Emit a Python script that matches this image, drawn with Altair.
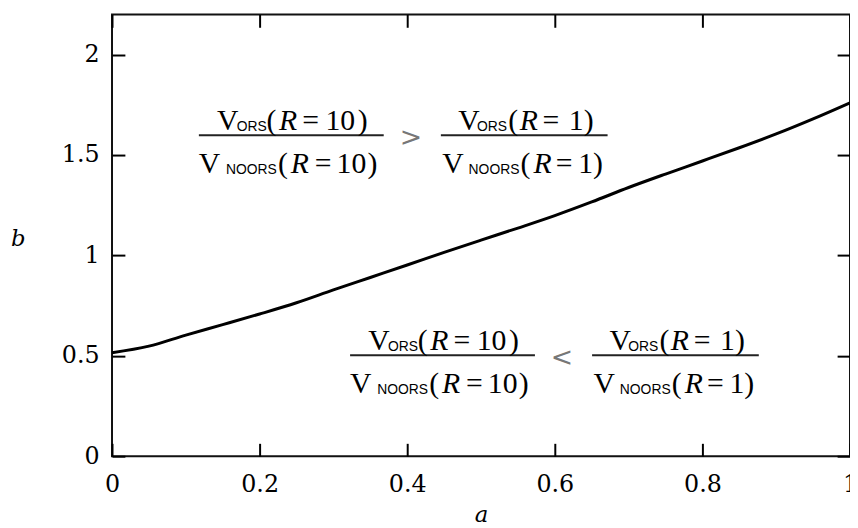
import altair as alt
import pandas as pd

# ---- data ----
a_vals = [0.0, 0.05, 0.1, 0.15, 0.2, 0.25, 0.3, 0.35, 0.4, 0.45, 0.5,
          0.55, 0.6, 0.65, 0.7, 0.75, 0.8, 0.85, 0.9, 0.95, 1.0]
b_vals = [0.515, 0.548, 0.603, 0.655, 0.708, 0.764, 0.828, 0.890, 0.952, 1.015, 1.076,
          1.136, 1.198, 1.266, 1.338, 1.405, 1.470, 1.536, 1.605, 1.680, 1.760]
x_ticks = [0, 0.2, 0.4, 0.6, 0.8, 1]
y_ticks = [0, 0.5, 1, 1.5, 2]
x_domain = [0, 1]
y_domain = [0, 2.2]

# annotation anchors (data units): left end of the first fraction bar of each group
groups = [
    {"a": 0.1177, "b": 1.598, "rel": ">"},
    {"a": 0.3226, "b": 0.503, "rel": "<"},
]
# (text, style, dx px, dy px) relative to the anchor
pieces = [
    ("V", "roman", 18.3, -5.5), ("ORS", "sub", 38.3, -4.5), ("(", "roman", 68.3, -5.5),
    ("R", "italic", 80.8, -5.5), ("=", "roman", 104.3, -5.5), ("10", "roman", 127.8, -5.5),
    (")", "roman", 160.3, -5.5),
    ("V", "roman", 0.0, 38), ("NOORS", "sub", 27.3, 39.5), ("(", "roman", 79.8, 38),
    ("R", "italic", 92.8, 38), ("=", "roman", 117.0, 38), ("10", "roman", 139.0, 38),
    (")", "roman", 170.3, 38),
    ("V", "roman", 261.8, -5.5), ("ORS", "sub", 280.8, -4.5), ("(", "roman", 312.3, -5.5),
    ("R", "italic", 323.8, -5.5), ("=", "roman", 347.0, -5.5), ("1)", "roman", 373.5, -5.5),
    ("V", "roman", 245.8, 38), ("NOORS", "sub", 272.3, 39.5), ("(", "roman", 324.8, 38),
    ("R", "italic", 337.8, 38), ("=", "roman", 360.3, 38), ("1)", "roman", 383.0, 38),
]
bars = [(0.0, 186.6), (244.3, 412.6)]
rel_offset = (214.0, 2.5)

W, H = 745, 446
SERIF = "DejaVu Serif"
TSERIF = "Liberation Serif"
SANS = "Liberation Sans"

ppa = W / (x_domain[1] - x_domain[0])
ppb = H / (y_domain[1] - y_domain[0])

df = pd.DataFrame({"a": a_vals, "b": b_vals})

rows, bar_rows, rel_rows = [], [], []
for g in groups:
    for t, s, dx, dy in pieces:
        rows.append({"a": g["a"] + dx / ppa, "b": g["b"] - dy / ppb, "text": t, "style": s})
    for x0, x1 in bars:
        bar_rows.append({"a": g["a"] + x0 / ppa, "a2": g["a"] + x1 / ppa, "b": g["b"]})
    rel_rows.append({"a": g["a"] + rel_offset[0] / ppa, "b": g["b"] - rel_offset[1] / ppb,
                     "text": g["rel"]})
ann = pd.DataFrame(rows)
bar_df = pd.DataFrame(bar_rows)
rel_df = pd.DataFrame(rel_rows)

xs = alt.Scale(domain=x_domain, nice=False, zero=False)
ys = alt.Scale(domain=y_domain, nice=False, zero=False)

main = alt.Chart(df).mark_line(color="black", strokeWidth=3, interpolate="monotone").encode(
    x=alt.X("a:Q", scale=xs, axis=alt.Axis(
        orient="bottom", values=x_ticks, format="~g", ticks=False, tickSize=0,
        domain=False, grid=False, labelFlush=False, labelOverlap=False,
        labelFont=SERIF, labelFontSize=24, labelColor="black", labelPadding=17,
        title="a", titleFont=SERIF, titleFontSize=23, titleFontStyle="italic",
        titleFontWeight="normal", titleColor="black", titleX=W / 2, titleY=66,
        titleBaseline="alphabetic", titleAlign="center")),
    y=alt.Y("b:Q", scale=ys, axis=alt.Axis(
        orient="left", values=y_ticks, format="~g", ticks=False, tickSize=0,
        domain=False, grid=False, labelOverlap=False,
        labelFont=SERIF, labelFontSize=24, labelColor="black", labelPadding=13,
        title="b", titleFont=SERIF, titleFontSize=23, titleFontStyle="italic",
        titleFontWeight="normal", titleColor="black", titleAngle=0, titleX=-95,
        titleY=233, titleBaseline="alphabetic", titleAlign="center")),
)


def tick_axis(orient, off, vals):
    return alt.Axis(orient=orient, offset=off, values=vals, labels=False, ticks=True,
                    tickSize=13, tickWidth=2, tickColor="black", domain=False,
                    grid=False, title=None)


ticks_a = alt.Chart(df).mark_line(opacity=0).encode(
    x=alt.X("a:Q", scale=xs, axis=tick_axis("top", -H, x_ticks)),
    y=alt.Y("b:Q", scale=ys, axis=tick_axis("right", -W, y_ticks)),
)
ticks_b = alt.Chart(df).mark_line(opacity=0).encode(
    x=alt.X("a:Q", scale=xs, axis=tick_axis("bottom", -H, x_ticks)),
    y=alt.Y("b:Q", scale=ys, axis=tick_axis("left", -W, y_ticks)),
)

styles = {
    "roman": dict(font=TSERIF, fontSize=30),
    "italic": dict(font=TSERIF, fontSize=30, fontStyle="italic"),
    "sub": dict(font=SANS, fontSize=14),
}
text_layers = []
for s, kw in styles.items():
    text_layers.append(
        alt.Chart(ann[ann["style"] == s]).mark_text(
            align="left", baseline="alphabetic", color="#000000", **kw
        ).encode(
            x=alt.X("a:Q", scale=xs, axis=None),
            y=alt.Y("b:Q", scale=ys, axis=None),
            text="text:N",
        )
    )

rel_layer = alt.Chart(rel_df).mark_text(
    align="center", baseline="middle", font="DejaVu Sans", fontSize=27, color="#777777"
).encode(
    x=alt.X("a:Q", scale=xs, axis=None),
    y=alt.Y("b:Q", scale=ys, axis=None),
    text="text:N",
)

bar_layer = alt.Chart(bar_df).mark_rule(color="#222222", strokeWidth=2).encode(
    x=alt.X("a:Q", scale=xs, axis=None),
    x2="a2:Q",
    y=alt.Y("b:Q", scale=ys, axis=None),
)

chart = alt.layer(main, ticks_a, ticks_b, bar_layer, rel_layer, *text_layers).resolve_axis(
    x="independent", y="independent"
).properties(
    width=W, height=H,
    background="white",
    autosize=alt.AutoSizeParams(type="none"),
    padding={"left": 105, "top": 4, "right": 0, "bottom": 68},
).configure_view(stroke="#111111", strokeWidth=2)

chart.save("out.html", embed_options={"renderer": "svg", "actions": False})
